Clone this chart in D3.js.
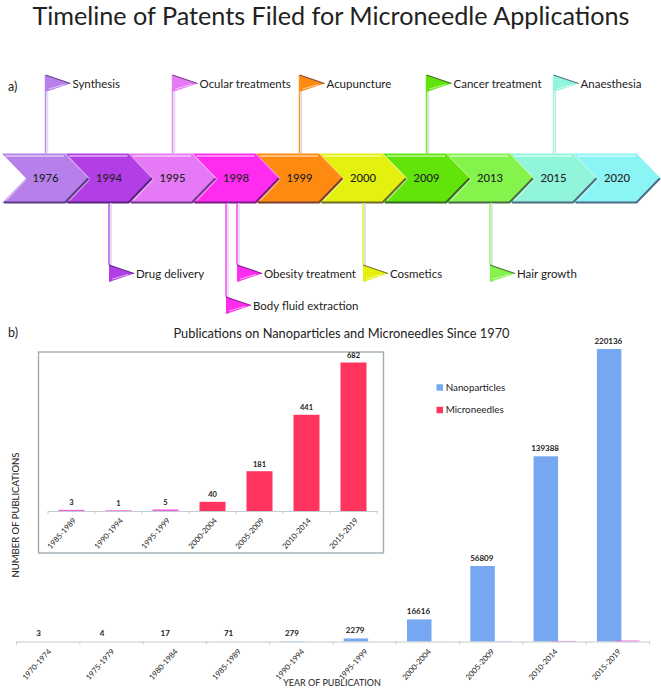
<!DOCTYPE html>
<html><head><meta charset="utf-8">
<script src="https://cdnjs.cloudflare.com/ajax/libs/d3/7.8.5/d3.min.js"></script>
<style>html,body{margin:0;padding:0;background:#fff}svg{display:block}text{font-family:Lato,"Open Sans",sans-serif;fill:#222}</style>
</head><body><svg id="c" width="661" height="689"></svg>
<script>
const timelineYears=["1976","1994","1995","1998","1999","2000","2009","2013","2015","2020"];
const timelineColors=["#b67fea","#b23ee6","#e679f6","#ff2cf0","#ff8a12","#e4f00e","#62e40a","#84f44c","#90f5da","#8bf4f4"];
const upperEventLabels=["Synthesis","Ocular treatments","Acupuncture","Cancer treatment","Anaesthesia"];
const upperEventYears=["1976","1995","1999","2009","2015"];
const lowerEventLabels=["Drug delivery","Obesity treatment","Body fluid extraction","Cosmetics","Hair growth"];
const lowerEventYears=["1994","1998","1998","2000","2013"];
const periods=["1970-1974","1975-1979","1980-1984","1985-1989","1990-1994","1995-1999","2000-2004","2005-2009","2010-2014","2015-2019"];
const nanoparticles=[3,4,17,71,279,2279,16616,56809,139388,220136];
const microneedles=[0,0,0,3,1,5,40,181,441,682];
const insetPeriods=["1985-1989","1990-1994","1995-1999","2000-2004","2005-2009","2010-2014","2015-2019"];
const insetValues=[3,1,5,40,181,441,682];

const svg=d3.select("#c");
const txt=(x,y,s,size,o={})=>svg.append("text").attr("x",x).attr("y",y).attr("font-size",size)
  .attr("text-anchor",o.anchor||"start").attr("font-weight",o.weight||null).attr("transform",o.transform||null).text(s);
txt(331,25,"Timeline of Patents Filed for Microneedle Applications",25.2,{anchor:"middle"});
txt(8,91,"a)",12.5); txt(8,337,"b)",12.5);

/* timeline */
const tx=d3.scalePoint().domain(timelineYears).range([45.5,617]);
const bandTop=153.5, bandBot=203, mid=(bandTop+bandBot)/2, body=63, tip=24;
const col=d=>timelineColors[timelineYears.indexOf(d)];
const line=d3.line();
timelineYears.slice().reverse().forEach(y=>{
  const c=col(y), l=tx(y)-43.5, r=l+body, light=d3.interpolateRgb(c,"#fff")(.45), dark=d3.interpolateRgb(c,"#201040")(.6);
  svg.append("path").attr("d",line([[l,bandTop],[r,bandTop],[r+tip,mid],[r,bandBot],[l,bandBot],[l+tip,mid]])+"Z").attr("fill",c);
  svg.append("path").attr("d",line([[l+4,bandTop+2.5],[r-1,bandTop+2.5]])).attr("stroke",light).attr("stroke-width",2).attr("fill","none");
  svg.append("path").attr("d",line([[l+4,bandBot-2.5],[l+tip,mid+1]])).attr("stroke",light).attr("stroke-width",1.5).attr("fill","none");
  svg.append("path").attr("d",line([[l+2,bandBot-.5],[r,bandBot-.5],[r+tip-.5,mid]])).attr("stroke",dark).attr("stroke-width",2).attr("fill","none");
  svg.append("path").attr("d",line([[r,bandTop],[r+tip,mid]])).attr("stroke",light).attr("stroke-width",1).attr("fill","none");
});
timelineYears.forEach(y=>txt(tx(y),mid+4.2,y,11.2,{anchor:"middle",weight:500}));

/* flags */
const poleOffset={"Obesity treatment":1,"Body fluid extraction":-10};
const flagTop={"Body fluid extraction":297};
function flag(label,year,yTop,poleFrom){
  const x=tx(year)+(poleOffset[label]||0), c=col(year), h=17, w=25;
  const pale=d3.interpolateRgb(c,"#fff")(.6), dark=d3.interpolateRgb(c,"#201040")(.55);
  svg.append("line").attr("x1",x+2).attr("x2",x+2).attr("y1",yTop+h).attr("y2",poleFrom).attr("stroke","#d5dde8").attr("stroke-width",1.5);
  svg.append("line").attr("x1",x).attr("x2",x).attr("y1",yTop).attr("y2",poleFrom).attr("stroke",d3.interpolateRgb(c,"#fff")(.1)).attr("stroke-width",1.5);
  svg.append("path").attr("d",line([[x,yTop],[x+w,yTop+h/2],[x,yTop+h]])+"Z").attr("fill",c);
  svg.append("path").attr("d",line([[x,yTop],[x+w,yTop+h/2]])).attr("stroke",dark).attr("stroke-width",1.2);
  svg.append("path").attr("d",line([[x+3,yTop+h-3],[x+w-6,yTop+h/2+1]])).attr("stroke",pale).attr("stroke-width",1);
  txt(x+w+2,yTop+h/2+4,label,11.5);
}
upperEventLabels.forEach((l,i)=>flag(l,upperEventYears[i],75,bandTop));
lowerEventLabels.forEach((l,i)=>flag(l,lowerEventYears[i],flagTop[l]||265,bandBot));

/* main chart */
const NANO="#76a8f2", MICRO="#ff3560", GREY="#c4ccd2";
const mx=d3.scaleBand().domain(periods).range([16.5,649.5]);
const my=d3.scaleLinear().domain([0,220136]).range([641.5,349]);
const barW=24.5;
txt(341.5,338,"Publications on Nanoparticles and Microneedles Since 1970",12.8,{anchor:"middle"});
periods.forEach((p,i)=>{
  const x=mx(p)+10.7, c=mx(p)+mx.bandwidth()/2;
  svg.append("rect").attr("x",x).attr("width",barW).attr("y",my(nanoparticles[i])).attr("height",my(0)-my(nanoparticles[i])).attr("fill",NANO);
  if(microneedles[i]>0) svg.append("rect").attr("x",x+18).attr("width",barW).attr("y",my(microneedles[i])).attr("height",my(0)-my(microneedles[i])).attr("fill","#e850d8");
  txt(c-9.5,my(nanoparticles[i])-5.5,nanoparticles[i],8,{anchor:"middle",weight:700});
  svg.append("text").attr("transform",`translate(${c+1.5},650) rotate(-48)`).attr("text-anchor","end").attr("dy",".35em").attr("font-size",7.7).attr("fill","#444").text(p);
});
const ag=svg.append("g").attr("transform",`translate(0,${my(0)})`).call(d3.axisBottom(mx).tickSize(0).tickFormat(""));
ag.selectAll("path").attr("stroke",GREY);
periods.concat("_end").forEach((p,i)=>{const x=16.5+i*mx.step();
  svg.append("line").attr("x1",x).attr("x2",x).attr("y1",my(0)).attr("y2",my(0)+3).attr("stroke",GREY);});
txt(332,686,"YEAR OF PUBLICATION",9,{anchor:"middle"});
txt(0,0,"NUMBER OF PUBLICATIONS",9.5,{anchor:"middle",transform:"translate(19,515) rotate(-90)"});

/* inset */
svg.append("rect").attr("x",38.5).attr("y",352).attr("width",345).attr("height",201).attr("fill","#fff").attr("stroke","#9fadb3").attr("stroke-width",1.4);
const ix=d3.scaleBand().domain(insetPeriods).range([48,377]);
const iy=d3.scaleLinear().domain([0,682]).range([511,363]);
insetPeriods.forEach((p,i)=>{
  const cx=ix(p)+ix.bandwidth()/2, v=insetValues[i];
  svg.append("rect").attr("x",cx-13).attr("width",26).attr("y",iy(v)-.5).attr("height",iy(0)-iy(v)+.5).attr("fill",v<10?"#f060d8":MICRO);
  txt(cx,iy(v)-5,v,7.5,{anchor:"middle",weight:700});
  svg.append("text").attr("transform",`translate(${cx+3},519) rotate(-48)`).attr("text-anchor","end").attr("dy",".35em").attr("font-size",7.7).attr("fill","#444").text(p);
});
const iag=svg.append("g").attr("transform",`translate(0,${iy(0)})`).call(d3.axisBottom(ix).tickSize(0).tickFormat(""));
iag.selectAll("path").attr("stroke",GREY);
insetPeriods.concat("_end").forEach((p,i)=>{const x=48+i*ix.step();
  svg.append("line").attr("x1",x).attr("x2",x).attr("y1",iy(0)).attr("y2",iy(0)+3).attr("stroke",GREY);});

/* legend */
[["Nanoparticles",NANO,387.5],["Microneedles",MICRO,410]].forEach(([n,c,y])=>{
  svg.append("rect").attr("x",436.5).attr("y",y-3.25).attr("width",6.5).attr("height",6.5).attr("fill",c);
  txt(445.7,y+3.2,n,9.8);
});
</script></body></html>
